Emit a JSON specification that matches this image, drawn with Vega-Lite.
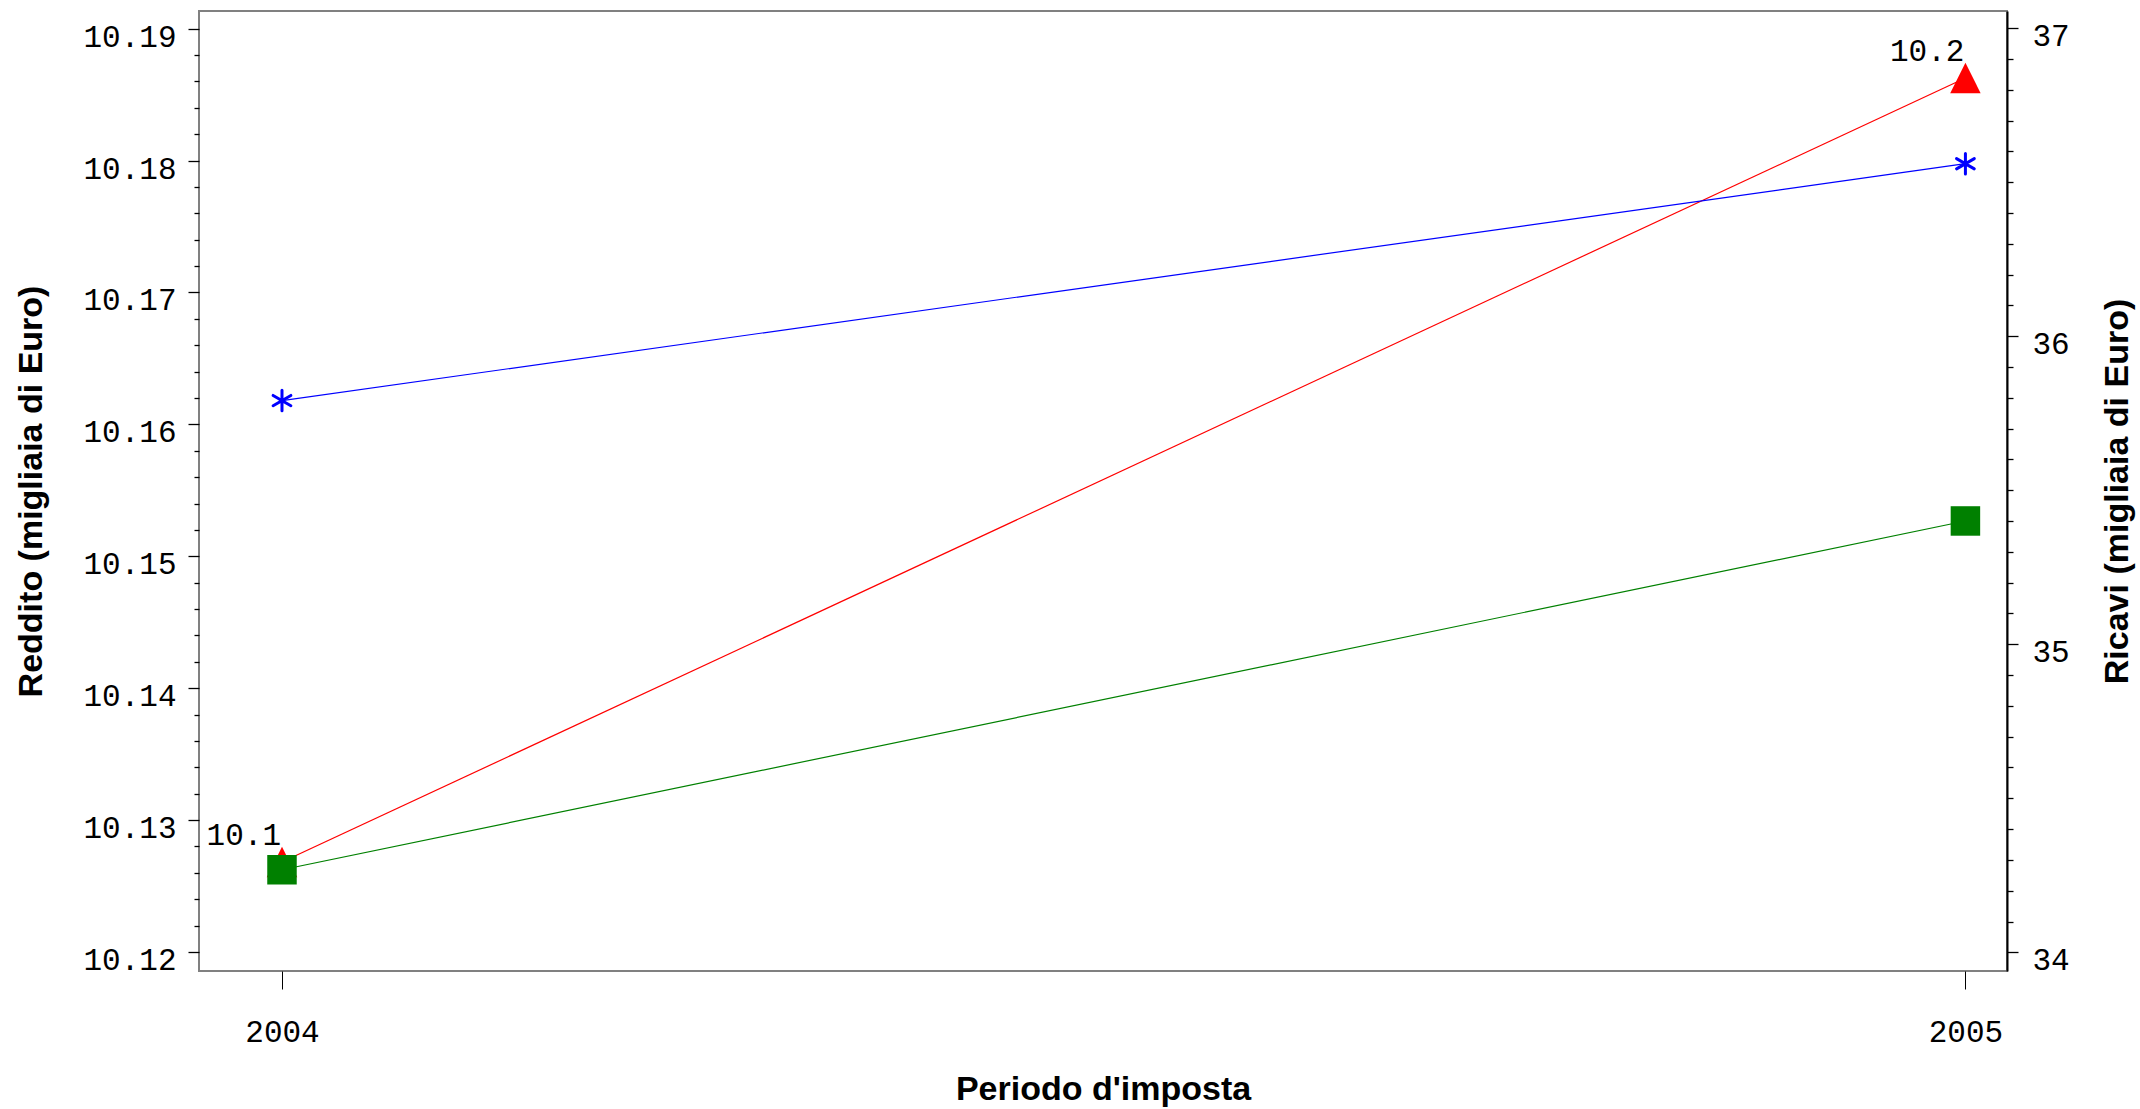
{
  "$schema": "https://vega.github.io/schema/vega-lite/v6.json",
  "width": 1808,
  "height": 960,
  "autosize": {"type": "none"},
  "padding": {"left": 199, "top": 11, "right": 133, "bottom": 138},
  "background": "white",
  "config": {
    "view": {"stroke": "#808080", "strokeWidth": 2},
    "axis": {"grid": false}
  },
  "datasets": {
    "pts": [
      {"serie": "Reddito", "anno": 2004, "valore": 10.12682},
      {"serie": "Reddito", "anno": 2005, "valore": 10.18626},
      {"serie": "Ricavi A", "anno": 2004, "valore": 35.7913},
      {"serie": "Ricavi A", "anno": 2005, "valore": 36.5603},
      {"serie": "Ricavi B", "anno": 2004, "valore": 34.268},
      {"serie": "Ricavi B", "anno": 2005, "valore": 35.4004}
    ]
  },
  "data": {"name": "pts"},
  "layer": [
    {
      "transform": [{"filter": "datum.serie == 'Reddito'"}],
      "encoding": {
        "x": {
          "field": "anno", "type": "quantitative",
          "scale": {"domain": [2003.9507, 2005.0247], "nice": false, "zero": false},
          "axis": {
            "values": [2004, 2005], "format": "d", "title": "Periodo d'imposta",
            "tickSize": 18, "tickColor": "#000", "tickWidth": 1, "domain": false,
            "labelFont": "Liberation Mono", "labelFontSize": 31, "labelColor": "#000",
            "labelPadding": 28, "labelBaseline": "top", "labelFlush": false,
            "titleFont": "Liberation Sans", "titleFontSize": 34, "titleFontWeight": "bold",
            "titleColor": "#000", "titlePadding": 25
          }
        },
        "y": {
          "field": "valore", "type": "quantitative",
          "scale": {"domain": [10.11856, 10.19134], "nice": false, "zero": false},
          "axis": {
            "orient": "left",
            "values": [10.12,10.122,10.124,10.126,10.128,10.13,10.132,10.134,10.136,10.138,10.14,10.142,10.144,10.146,10.148,10.15,10.152,10.154,10.156,10.158,10.16,10.162,10.164,10.166,10.168,10.17,10.172,10.174,10.176,10.178,10.18,10.182,10.184,10.186,10.188,10.19],
            "labelExpr": "abs(datum.value*100 - round(datum.value*100)) < 0.001 ? format(datum.value, '.2f') : ''",
            "tickSize": {"condition": {"test": "abs(datum.value*100 - round(datum.value*100)) < 0.001", "value": 11}, "value": 5},
            "domain": false, "tickColor": "#000", "tickWidth": 1.3,
            "labelFont": "Liberation Mono", "labelFontSize": 31, "labelColor": "#000",
            "labelPadding": 12, "labelBaseline": "middle", "labelOffset": 8.5,
            "labelFlush": false, "labelOverlap": false,
            "title": "Reddito (migliaia di Euro)",
            "titleFont": "Liberation Sans", "titleFontSize": 34, "titleFontWeight": "bold",
            "titleColor": "#000", "titlePadding": 34
          }
        }
      },
      "layer": [
        {"mark": {"type": "line", "color": "#ff0000", "strokeWidth": 1.2}},
        {"mark": {"type": "point", "shape": "M0,-1L1,1L-1,1Z", "filled": true, "color": "#ff0000", "size": 930, "opacity": 1}},
        {
          "mark": {"type": "text", "align": "right", "baseline": "alphabetic", "dx": -1, "dy": -17, "font": "Liberation Mono", "fontSize": 31, "color": "#000"},
          "encoding": {"text": {"field": "valore", "type": "quantitative", "format": ".1f"}}
        }
      ]
    },
    {
      "transform": [{"filter": "datum.serie != 'Reddito'"}],
      "encoding": {
        "x": {
          "field": "anno", "type": "quantitative",
          "scale": {"domain": [2003.9507, 2005.0247], "nice": false, "zero": false},
          "axis": {
            "values": [2004, 2005], "format": "d", "title": "Periodo d'imposta",
            "tickSize": 18, "tickColor": "#000", "tickWidth": 1, "domain": false,
            "labelFont": "Liberation Mono", "labelFontSize": 31, "labelColor": "#000",
            "labelPadding": 28, "labelBaseline": "top", "labelFlush": false,
            "titleFont": "Liberation Sans", "titleFontSize": 34, "titleFontWeight": "bold",
            "titleColor": "#000", "titlePadding": 25
          }
        },
        "y": {
          "field": "valore", "type": "quantitative",
          "scale": {"domain": [33.9393, 37.0561], "nice": false, "zero": false},
          "axis": {
            "orient": "right",
            "values": [34,34.1,34.2,34.3,34.4,34.5,34.6,34.7,34.8,34.9,35,35.1,35.2,35.3,35.4,35.5,35.6,35.7,35.8,35.9,36,36.1,36.2,36.3,36.4,36.5,36.6,36.7,36.8,36.9,37],
            "labelExpr": "abs(datum.value - round(datum.value)) < 0.001 ? format(datum.value, 'd') : ''",
            "tickSize": {"condition": {"test": "abs(datum.value - round(datum.value)) < 0.001", "value": 11}, "value": 6},
            "domain": true, "domainColor": "#000", "domainWidth": 2,
            "tickColor": "#000", "tickWidth": 1.3,
            "labelFont": "Liberation Mono", "labelFontSize": 31, "labelColor": "#000",
            "labelPadding": 14, "labelBaseline": "middle", "labelOffset": 8.5,
            "labelFlush": false, "labelOverlap": false,
            "title": "Ricavi (migliaia di Euro)",
            "titleFont": "Liberation Sans", "titleFontSize": 34, "titleFontWeight": "bold",
            "titleColor": "#000", "titlePadding": 31, "titleAngle": 270, "titleBaseline": "top"
          }
        }
      },
      "layer": [
        {"transform": [{"filter": "datum.serie == 'Ricavi A'"}], "mark": {"type": "line", "color": "#0000ff", "strokeWidth": 1.2}},
        {"transform": [{"filter": "datum.serie == 'Ricavi A'"}], "mark": {"type": "point", "shape": "M0,-1L0,1M-0.866,-0.5L0.866,0.5M-0.866,0.5L0.866,-0.5", "filled": false, "color": "#0000ff", "strokeWidth": 3, "strokeCap": "round", "size": 420, "opacity": 1}},
        {"transform": [{"filter": "datum.serie == 'Ricavi B'"}], "mark": {"type": "line", "color": "#008000", "strokeWidth": 1.2}},
        {"transform": [{"filter": "datum.serie == 'Ricavi B'"}], "mark": {"type": "point", "shape": "square", "filled": true, "color": "#008000", "size": 870, "opacity": 1}}
      ]
    }
  ],
  "resolve": {"scale": {"y": "independent"}}
}
